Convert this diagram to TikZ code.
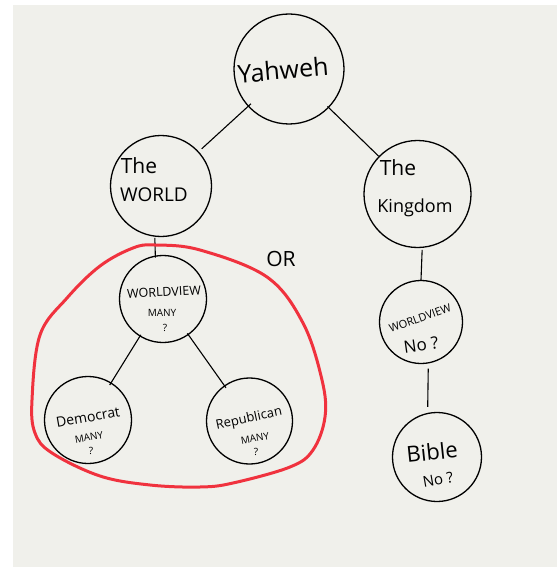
\documentclass[tikz,border=0pt]{standalone}
\usepackage{fontspec}
\setmainfont{Open Sans}
\definecolor{bggray}{RGB}{240,240,235}
\definecolor{loopred}{RGB}{240,50,62}
\begin{document}
\begin{tikzpicture}[x=1pt,y=-1pt,
  bubble/.style={circle,draw,line width=1.3pt,inner sep=0pt},
  link/.style={line width=1.1pt},
  lbl/.style={inner sep=0pt}]
\useasboundingbox (0,0) rectangle (557,567);
\fill[white] (0,0) rectangle (557,567);
\fill[bggray] (13,5) rectangle (557,567);

% circles
\node[bubble,minimum size=110pt] (Y) at (289,69) {};
\node[bubble,minimum size=101pt] (W) at (161,186) {};
\node[bubble,minimum size=107pt] (K) at (417.5,194) {};
\node[bubble,minimum size=87pt] (WM) at (163,299) {};
\node[bubble,minimum size=83pt] (WN) at (421,322) {};
\node[bubble,minimum size=87pt] (D) at (88,420) {};
\node[bubble,minimum size=86pt] (R) at (249.5,421) {};
\node[bubble,minimum size=89pt] (B) at (437,457) {};

% connectors
\draw[link,shorten <=-4pt,shorten >=4pt] (Y) -- (W);
\draw[link,shorten <=-2pt] (Y) -- (K);
\draw[link,shorten <=1pt,shorten >=-2pt] (W.263) -- (WM.100);
\draw[link,shorten <=2pt] (K.275) -- (WN.north);
\draw[link,shorten <=5pt,shorten >=6pt] (WN.280) -- (B.102);
\draw[link,shorten <=-2pt,shorten >=-3pt] (WM) -- (D);
\draw[link,shorten <=-2pt,shorten >=-3pt] (WM) -- (R);

% texts
\node[lbl,font=\fontsize{25}{25}\selectfont,rotate=5] (tY) at (283,70) {Yahweh};
\node[lbl,font=\fontsize{21}{21}\selectfont] (tW1) at (139,166) {The};
\node[lbl,font=\fontsize{19}{19}\selectfont] (tW2) at (154,195) {WORLD};
\node[lbl,font=\fontsize{21}{21}\selectfont] (tK1) at (398,168) {The};
\node[lbl,font=\fontsize{18}{18}\selectfont] (tK2) at (415,208) {Kingdom};
\node[lbl,font=\fontsize{12.5}{12.5}\selectfont,rotate=3] (tWM1) at (164,292) {WORLDVIEW};
\node[lbl,font=\fontsize{10}{10}\selectfont] (tWM2) at (162,313) {MANY};
\node[lbl,font=\fontsize{10}{10}\selectfont] (tWM3) at (165,328) {?};
\node[lbl,font=\fontsize{11}{11}\selectfont,rotate=20] (tWN1) at (420,318) {WORLDVIEW};
\node[lbl,font=\fontsize{17}{17}\selectfont,rotate=8] (tWN2) at (421,345) {No ?};
\node[lbl,font=\fontsize{14}{14}\selectfont,rotate=10] (tD1) at (88,417) {Democrat};
\node[lbl,font=\fontsize{10}{10}\selectfont,rotate=10] (tD2) at (89,437) {MANY};
\node[lbl,font=\fontsize{10}{10}\selectfont] (tD3) at (91,451) {?};
\node[lbl,font=\fontsize{13}{13}\selectfont,rotate=12] (tR1) at (249,419) {Republican};
\node[lbl,font=\fontsize{10}{10}\selectfont,rotate=10] (tR2) at (255,438) {MANY};
\node[lbl,font=\fontsize{10}{10}\selectfont] (tR3) at (256,452) {?};
\node[lbl,font=\fontsize{22}{22}\selectfont,rotate=6] (tB1) at (432,452) {Bible};
\node[lbl,font=\fontsize{15}{15}\selectfont,rotate=10] (tB2) at (438,480) {No ?};
\node[lbl,font=\fontsize{21}{21}\selectfont] (tOR) at (281,259) {OR};

% red loop
\draw[loopred,line width=3pt,line join=round] plot[smooth cycle,tension=0.6] coordinates {
 (155,245) (200,250) (267,277) (303,323) (322,380) (325,417) (313,450)
 (290,467) (233,483) (200,487) (150,485) (100,476) (52,453) (35,433)
 (32,400) (40,335) (67,298) (100,266) (133,248)};
\end{tikzpicture}
\end{document}
